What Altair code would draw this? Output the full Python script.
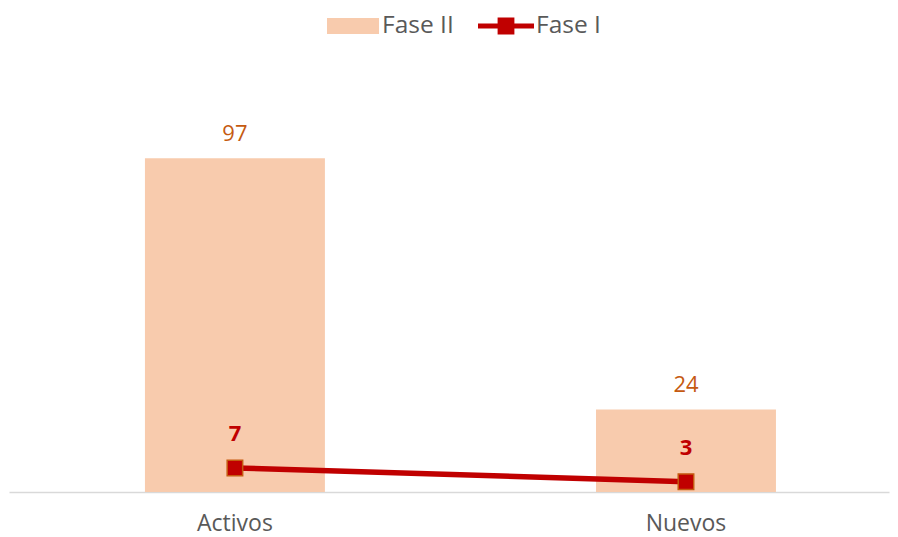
import altair as alt
import pandas as pd

categories = ["Activos", "Nuevos"]
fase2 = [97, 24]
fase1 = [7, 3]

df = pd.DataFrame({
    "cat": categories,
    "f2": fase2,
    "f1": fase1,
    "s2": ["Fase II"] * 2,
    "s1": ["Fase I"] * 2,
})

FONT = "Open Sans"
BAR = "#F8CBAD"
RED = "#C00000"
ORANGE = "#C55A11"
GREY = "#595959"

x = alt.X(
    "cat:N", sort=categories, title=None,
    scale=alt.Scale(paddingInner=0.601, paddingOuter=0.276, align=0.546),
    axis=alt.Axis(labelAngle=0, ticks=False, tickSize=0, grid=False,
                  domainColor="#D9D9D9", domainWidth=1.5,
                  labelFontSize=23, labelColor=GREY, labelFont=FONT,
                  labelBaseline="alphabetic", labelPadding=38),
)
yscale = alt.Scale(domain=[0, 100], nice=False, zero=True)

bar_path = "M-1,-0.3077H1V0.3077H-1Z"
line_path = "M-1,-0.09H-0.3V-0.3H0.3V-0.09H1V0.09H0.3V0.3H-0.3V0.09H-1Z"

bars = alt.Chart(df).mark_bar().encode(
    x=x,
    y=alt.Y("f2:Q", scale=yscale, axis=None),
    fill=alt.Fill("s2:N", scale=alt.Scale(domain=["Fase II"], range=[BAR]),
                  legend=alt.Legend(orient="none", legendX=318, legendY=-148,
                                    title=None, padding=0,
                                    symbolType=bar_path, symbolSize=2704,
                                    symbolStrokeWidth=0,
                                    labelFontSize=24.5, labelColor=GREY, labelFont=FONT,
                                    labelOffset=3)),
)

bar_text = alt.Chart(df).mark_text(
    font=FONT, fontSize=22, color=ORANGE, baseline="alphabetic", dy=-17
).encode(x=x, y=alt.Y("f2:Q", scale=yscale, axis=None), text="f2:Q")

line = alt.Chart(df).mark_line(strokeWidth=5.5).encode(
    x=x,
    y=alt.Y("f1:Q", scale=yscale, axis=None),
    stroke=alt.Stroke("s1:N", scale=alt.Scale(domain=["Fase I"], range=[RED]),
                      legend=alt.Legend(orient="none", legendX=469, legendY=-150,
                                        title=None, padding=0,
                                        symbolType=line_path, symbolSize=3136,
                                        symbolFillColor=RED, symbolStrokeWidth=0,
                                        labelFontSize=24.5, labelColor=GREY, labelFont=FONT,
                                        labelOffset=2)),
)

points = alt.Chart(df).mark_point(
    shape="square", filled=True, fill=RED, stroke=ORANGE, strokeWidth=1.5,
    size=240, opacity=1
).encode(x=x, y=alt.Y("f1:Q", scale=yscale, axis=None))

line_text = alt.Chart(df).mark_text(
    font=FONT, fontSize=22, fontWeight="bold", color=RED, baseline="alphabetic", dy=-27
).encode(x=x, y=alt.Y("f1:Q", scale=yscale, axis=None), text="f1:Q")

chart = alt.layer(bars, bar_text, line, points, line_text).properties(
    width=880, height=344,
    padding={"left": 1, "top": 140, "right": 1, "bottom": 45},
    autosize="none",
).configure(font=FONT).configure_view(stroke=None)

chart.save("out.html", embed_options={"renderer": "svg", "actions": False})
